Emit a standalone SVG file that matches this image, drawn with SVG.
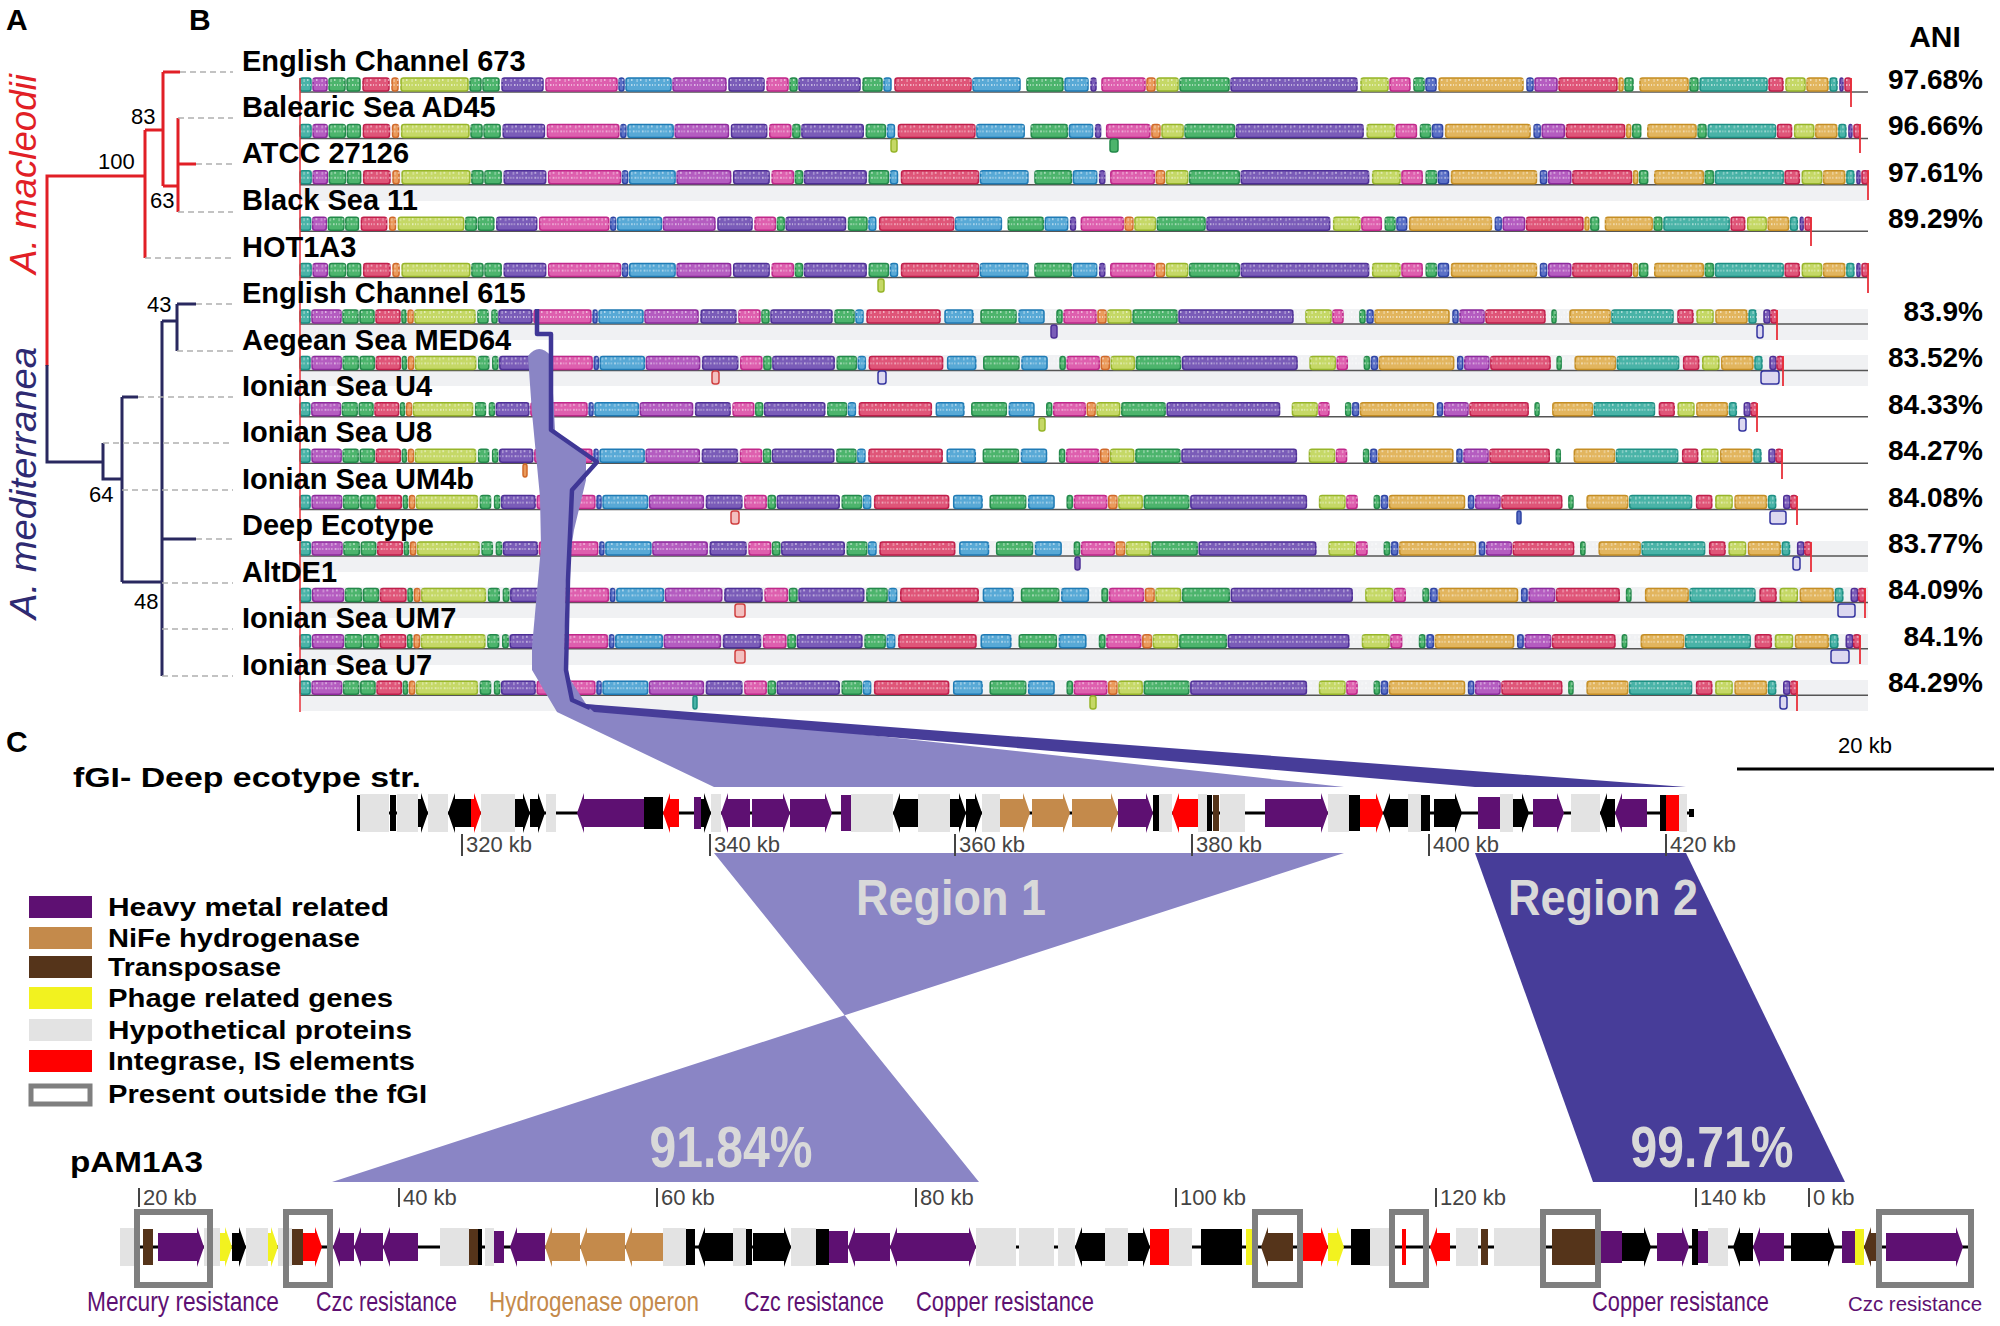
<svg xmlns="http://www.w3.org/2000/svg" width="2000" height="1326" viewBox="0 0 2000 1326">
<style>
text{font-family:"Liberation Sans",Arial,sans-serif}
.pl{font-size:30px;font-weight:bold}
.lab{font-size:29px;font-weight:bold}
.ani{font-size:28px;font-weight:bold;text-anchor:end}
.bs{font-size:22px}
.tk{font-size:22px;fill:#444}
.tkl{stroke:#444;stroke-width:2}
.red{stroke:#e11f26;stroke-width:3;fill:none}
.nav{stroke:#29285f;stroke-width:3;fill:none}
.dash{stroke:#b0b0b0;stroke-width:1.5;stroke-dasharray:6 4}
.base{stroke:#555;stroke-width:1.5}
.band{fill:#f0f1f3}
.end{stroke:#e8303a;stroke-width:1.8}
.blk rect,rect.h{stroke-width:1.5;rx:2.5px}
.c1{fill:#49b3a7;stroke:#1d8f83}
.c2{fill:#b45cc0;stroke:#8d2a9c}
.c3{fill:#4cb46c;stroke:#23894a}
.c4{fill:#df5578;stroke:#c01f4b}
.c5{fill:#ea9a5b;stroke:#d0692a}
.c6{fill:#c5d866;stroke:#97b52a}
.c7{fill:#7a5cb8;stroke:#4e2f96}
.c8{fill:#de5fae;stroke:#c0288a}
.c9{fill:#58a9d6;stroke:#1f7bb5}
.c10{fill:#e2b55e;stroke:#c58e24}
.c11{fill:#5b70c6;stroke:#2f44a4}
.ho{fill:#dcd8f0;stroke:#3535a0}
.blk rect.sp{fill:url(#sp);stroke:none;rx:0}
.hm{fill:#5e1072}.ni{fill:#c48a4b}.tr{fill:#55341a}.ph{fill:#f2f21f}.hy{fill:#e3e3e3}.ig{fill:#ff0000}.bk{fill:#000}
.box{fill:none;stroke:#7f7f7f;stroke-width:6}
.leg{font-size:25px;font-weight:bold}
.bl{font-size:28px;fill:#5e1072}
.big{font-weight:bold;fill:#d9d9d9}
</style>
<defs>
<pattern id="sp" width="9" height="8" patternUnits="userSpaceOnUse">
<rect x="1" y="0" width="1.5" height="5" fill="#fff" opacity="0.55"/>
<rect x="4" y="0" width="1" height="3" fill="#fff" opacity="0.5"/>
<rect x="6.5" y="0" width="1.2" height="6" fill="#fff" opacity="0.45"/>
</pattern>
<g id="mA" class="blk">
<rect class="c1" x="300" y="-14" width="11" height="13"/>
<rect class="c2" x="313" y="-14" width="14" height="13"/>
<rect class="c3" x="329" y="-14" width="16" height="13"/>
<rect class="c3" x="347" y="-14" width="13" height="13"/>
<rect class="c4" x="363" y="-14" width="26" height="13"/>
<rect class="c5" x="392" y="-14" width="6" height="13"/>
<rect class="c6" x="401" y="-14" width="67" height="13"/>
<rect class="c3" x="470" y="-14" width="11" height="13"/>
<rect class="c3" x="483" y="-14" width="16" height="13"/>
<rect class="c7" x="502" y="-14" width="41" height="13"/>
<rect class="c8" x="546" y="-14" width="71" height="13"/>
<rect class="c11" x="619" y="-14" width="5" height="13"/>
<rect class="c9" x="626" y="-14" width="45" height="13"/>
<rect class="c2" x="673" y="-14" width="53" height="13"/>
<rect class="c7" x="729" y="-14" width="35" height="13"/>
<rect class="c8" x="767" y="-14" width="21" height="13"/>
<rect class="c3" x="790" y="-14" width="7" height="13"/>
<rect class="c7" x="799" y="-14" width="61" height="13"/>
<rect class="c3" x="863" y="-14" width="19" height="13"/>
<rect class="c9" x="884" y="-14" width="7" height="13"/>
<rect class="c4" x="895" y="-14" width="76" height="13"/>
<rect class="c9" x="973" y="-14" width="47" height="13"/>
<rect class="c3" x="1027" y="-14" width="36" height="13"/>
<rect class="c9" x="1065" y="-14" width="23" height="13"/>
<rect class="c7" x="1091" y="-14" width="5" height="13"/>
<rect class="c8" x="1102" y="-14" width="43" height="13"/>
<rect class="c5" x="1147" y="-14" width="8" height="13"/>
<rect class="c6" x="1157" y="-14" width="21" height="13"/>
<rect class="c3" x="1180" y="-14" width="49" height="13"/>
<rect class="c7" x="1231" y="-14" width="126" height="13"/>
<rect class="c6" x="1361" y="-14" width="27" height="13"/>
<rect class="c8" x="1390" y="-14" width="20" height="13"/>
<rect class="c3" x="1414" y="-14" width="10" height="13"/>
<rect class="c11" x="1426" y="-14" width="10" height="13"/>
<rect class="c10" x="1439" y="-14" width="84" height="13"/>
<rect class="c11" x="1527" y="-14" width="6" height="13"/>
<rect class="c2" x="1535" y="-14" width="22" height="13"/>
<rect class="c4" x="1559" y="-14" width="58" height="13"/>
<rect class="c10" x="1619" y="-14" width="4" height="13"/>
<rect class="c3" x="1625" y="-14" width="8" height="13"/>
<rect class="c10" x="1640" y="-14" width="48" height="13"/>
<rect class="c3" x="1690" y="-14" width="8" height="13"/>
<rect class="c1" x="1700" y="-14" width="67" height="13"/>
<rect class="c4" x="1769" y="-14" width="14" height="13"/>
<rect class="c6" x="1786" y="-14" width="19" height="13"/>
<rect class="c10" x="1807" y="-14" width="21" height="13"/>
<rect class="c1" x="1830" y="-14" width="7" height="13"/>
<rect class="c7" x="1840" y="-14" width="3" height="13"/>
<rect class="c4" x="1845" y="-14" width="6" height="13"/>
<rect class="sp" x="300" y="-13" width="1551" height="7"/>
</g>
<g id="mM" class="blk">
<rect class="c1" x="300" y="-14" width="10" height="13"/>
<rect class="c2" x="312" y="-14" width="29" height="13"/>
<rect class="c3" x="343" y="-14" width="15" height="13"/>
<rect class="c3" x="360" y="-14" width="14" height="13"/>
<rect class="c4" x="376" y="-14" width="24" height="13"/>
<rect class="c3" x="402" y="-14" width="4" height="13"/>
<rect class="c5" x="408" y="-14" width="5" height="13"/>
<rect class="c6" x="415" y="-14" width="60" height="13"/>
<rect class="c3" x="478" y="-14" width="10" height="13"/>
<rect class="c3" x="492" y="-14" width="5" height="13"/>
<rect class="c7" x="499" y="-14" width="33" height="13"/>
<rect class="c8" x="534" y="-14" width="57" height="13"/>
<rect class="c11" x="593" y="-14" width="4" height="13"/>
<rect class="c9" x="599" y="-14" width="44" height="13"/>
<rect class="c2" x="645" y="-14" width="53" height="13"/>
<rect class="c7" x="701" y="-14" width="35" height="13"/>
<rect class="c8" x="739" y="-14" width="21" height="13"/>
<rect class="c3" x="762" y="-14" width="7" height="13"/>
<rect class="c7" x="771" y="-14" width="61" height="13"/>
<rect class="c3" x="835" y="-14" width="19" height="13"/>
<rect class="c9" x="856" y="-14" width="7" height="13"/>
<rect class="c4" x="867" y="-14" width="73" height="13"/>
<rect class="c9" x="945" y="-14" width="28" height="13"/>
<rect class="c3" x="981" y="-14" width="35" height="13"/>
<rect class="c9" x="1019" y="-14" width="25" height="13"/>
<rect class="c3" x="1057" y="-14" width="5" height="13"/>
<rect class="c8" x="1064" y="-14" width="32" height="13"/>
<rect class="c5" x="1098" y="-14" width="8" height="13"/>
<rect class="c6" x="1108" y="-14" width="23" height="13"/>
<rect class="c3" x="1133" y="-14" width="44" height="13"/>
<rect class="c7" x="1179" y="-14" width="114" height="13"/>
<rect class="c6" x="1306" y="-14" width="25" height="13"/>
<rect class="c8" x="1333" y="-14" width="10" height="13"/>
<rect class="c3" x="1360" y="-14" width="5" height="13"/>
<rect class="c11" x="1367" y="-14" width="6" height="13"/>
<rect class="c10" x="1375" y="-14" width="74" height="13"/>
<rect class="c11" x="1453" y="-14" width="5" height="13"/>
<rect class="c2" x="1460" y="-14" width="24" height="13"/>
<rect class="c4" x="1486" y="-14" width="59" height="13"/>
<rect class="c3" x="1552" y="-14" width="4" height="13"/>
<rect class="c10" x="1570" y="-14" width="40" height="13"/>
<rect class="c1" x="1612" y="-14" width="61" height="13"/>
<rect class="c4" x="1678" y="-14" width="15" height="13"/>
<rect class="c6" x="1697" y="-14" width="16" height="13"/>
<rect class="c10" x="1716" y="-14" width="31" height="13"/>
<rect class="c1" x="1749" y="-14" width="7" height="13"/>
<rect class="c7" x="1764" y="-14" width="6" height="13"/>
<rect class="c4" x="1771" y="-14" width="6" height="13"/>
<rect class="sp" x="300" y="-13" width="1477" height="7"/>
</g>
</defs>
<rect width="2000" height="1326" fill="#fff"/>

<g id="panel-labels">
<text class="pl" x="6" y="30">A</text>
<text class="pl" x="189" y="30">B</text>
<text class="pl" x="6" y="752">C</text>
</g>

<g id="tree">
<path class="red" d="M47,366V176H145M145,130V258M145,130H163M163,72V186M163,72H180M163,186H178M178,118V212M178,164H196"/>
<path class="nav" d="M47,365V462H103M103,443V479H122M122,397V582M122,397H138M122,582H162M162,321V676M162,321H177M177,304V351M177,304H196M162,539H196"/>
<path class="dash" d="M180,72H233M178,118H233M196,164H233M178,212H233M145,258H233M196,304H233M177,351H233M138,397H233M103,443H233M122,490H233M196,539H233M162,583H233M162,629H233M162,676H233"/>
<g class="bs">
<text x="98" y="169">100</text>
<text x="131" y="124">83</text>
<text x="150" y="208">63</text>
<text x="147" y="312">43</text>
<text x="89" y="502">64</text>
<text x="134" y="609">48</text>
</g>
<text transform="translate(36,274) rotate(-90)" font-size="36" font-style="italic" fill="#e11f26" textLength="200" lengthAdjust="spacingAndGlyphs">A. macleodii</text>
<text transform="translate(36,619) rotate(-90)" font-size="36" font-style="italic" fill="#2e2a72" textLength="272" lengthAdjust="spacingAndGlyphs">A. mediterranea</text>
</g>

<g id="alignment">
<g id="bands">
<rect class="band" x="300" y="170" width="1568" height="31"/>
<rect class="band" x="300" y="309" width="1568" height="31"/>
<rect class="band" x="300" y="355" width="1568" height="31"/>
<rect class="band" x="300" y="541" width="1568" height="31"/>
<rect class="band" x="300" y="587" width="1568" height="31"/>
<rect class="band" x="300" y="634" width="1568" height="31"/>
<rect class="band" x="300" y="680" width="1568" height="31"/>
</g>
<path class="base" d="M300,92H1868M300,138.4H1868M300,184.8H1868M300,231.2H1868M300,277.6H1868M300,324H1868M300,370.4H1868M300,416.8H1868M300,463.2H1868M300,509.6H1868M300,556H1868M300,602.4H1868M300,648.8H1868M300,695.2H1868"/>
<use id="track0" href="#mA" transform="translate(0,92)"/>
<use id="track1" href="#mA" transform="matrix(1.0058 0 0 1 -1.74 138.4)"/>
<use id="track2" href="#mA" transform="matrix(1.011 0 0 1 -3.3 184.8)"/>
<use id="track3" href="#mA" transform="matrix(0.9742 0 0 1 7.74 231.2)"/>
<use id="track4" href="#mA" transform="matrix(1.011 0 0 1 -3.3 277.6)"/>
<use id="track5" href="#mM" transform="translate(0,324)"/>
<use id="track6" href="#mM" transform="matrix(1.0041 0 0 1 -1.23 370.4)"/>
<use id="track7" href="#mM" transform="matrix(0.9865 0 0 1 4.05 416.8)"/>
<use id="track8" href="#mM" transform="matrix(1.0034 0 0 1 -1.02 463.2)"/>
<use id="track9" href="#mM" transform="matrix(1.0135 0 0 1 -4.05 509.6)"/>
<use id="track10" href="#mM" transform="matrix(1.023 0 0 1 -6.9 556)"/>
<use id="track11" href="#mM" transform="matrix(1.0596 0 0 1 -17.88 602.4)"/>
<use id="track12" href="#mM" transform="matrix(1.0562 0 0 1 -16.86 648.8)"/>
<use id="track13" href="#mM" transform="matrix(1.0135 0 0 1 -4.05 695.2)"/>
<g id="hanging" class="blk">
<rect class="c6" x="891" y="139" width="6" height="13"/>
<rect class="c3" x="1110" y="139" width="8" height="13"/>
<rect class="c6" x="878" y="279" width="6" height="13"/>
<rect class="c7" x="1051" y="325" width="6" height="13"/>
<rect class="ho" x="1757" y="325" width="6" height="13"/>
<rect class="ho" x="712" y="371" width="7" height="13" style="stroke:#d04040;fill:#f3c0c0"/>
<rect class="ho" x="878" y="371" width="8" height="13"/>
<rect class="ho" x="1761" y="371" width="18" height="13"/>
<rect class="c6" x="1039" y="418" width="6" height="13"/>
<rect class="ho" x="1739" y="418" width="7" height="13"/>
<rect class="c5" x="523" y="464" width="4" height="13"/>
<rect class="ho" x="731" y="511" width="8" height="13" style="stroke:#d04040;fill:#f3c0c0"/>
<rect class="c11" x="1517" y="511" width="4" height="13"/>
<rect class="ho" x="1770" y="511" width="16" height="13"/>
<rect class="c7" x="1075" y="557" width="5" height="13"/>
<rect class="ho" x="1793" y="557" width="7" height="13"/>
<rect class="ho" x="735" y="604" width="10" height="13" style="stroke:#d04040;fill:#f3c0c0"/>
<rect class="ho" x="1838" y="604" width="17" height="13"/>
<rect class="ho" x="735" y="650" width="10" height="13" style="stroke:#d04040;fill:#f3c0c0"/>
<rect class="ho" x="1831" y="650" width="18" height="13"/>
<rect class="c1" x="693" y="696" width="4" height="13"/>
<rect class="c6" x="1090" y="696" width="6" height="13"/>
<rect class="ho" x="1780" y="696" width="7" height="13"/>
</g>
<path class="end" d="M1851,78V107M1860,124V153M1868,170V200M1811,217V246M1868,263V293M1777,310V340M1783,356V386M1757,403V432M1782,449V479M1797,496V525M1811,542V572M1865,588V618M1860,635V664M1797,681V711"/>
<path d="M300,78V712" stroke="#e8303a" stroke-width="1.5"/>
</g>

<g id="strain-labels">
<text class="lab" x="242" y="71">English Channel 673</text>
<text class="lab" x="242" y="117">Balearic Sea AD45</text>
<text class="lab" x="242" y="163">ATCC 27126</text>
<text class="lab" x="242" y="210">Black Sea 11</text>
<text class="lab" x="242" y="257" font-size="32">HOT1A3</text>
<text class="lab" x="242" y="303">English Channel 615</text>
<text class="lab" x="242" y="350">Aegean Sea MED64</text>
<text class="lab" x="242" y="396">Ionian Sea U4</text>
<text class="lab" x="242" y="442">Ionian Sea U8</text>
<text class="lab" x="242" y="489">Ionian Sea UM4b</text>
<text class="lab" x="242" y="535">Deep Ecotype</text>
<text class="lab" x="242" y="582">AltDE1</text>
<text class="lab" x="242" y="628">Ionian Sea UM7</text>
<text class="lab" x="242" y="675">Ionian Sea U7</text>
</g>

<g id="ani">
<text x="1935" y="47" font-size="30" font-weight="bold" text-anchor="middle">ANI</text>
<text class="ani" x="1983" y="89">97.68%</text>
<text class="ani" x="1983" y="135">96.66%</text>
<text class="ani" x="1983" y="182">97.61%</text>
<text class="ani" x="1983" y="228">89.29%</text>
<text class="ani" x="1983" y="321">83.9%</text>
<text class="ani" x="1983" y="367">83.52%</text>
<text class="ani" x="1983" y="414">84.33%</text>
<text class="ani" x="1983" y="460">84.27%</text>
<text class="ani" x="1983" y="507">84.08%</text>
<text class="ani" x="1983" y="553">83.77%</text>
<text class="ani" x="1983" y="599">84.09%</text>
<text class="ani" x="1983" y="646">84.1%</text>
<text class="ani" x="1983" y="692">84.29%</text>
</g>

<g id="connectors">
<path id="ribbon-region1" fill="#8a85c5" d="M528,356Q539,342 551,356L555,430L586,457L586,480L574,530L566,580L564,670L586,704L1344,787L714,787L557,712L532,670L532,647L541,547L540,497L532,413Z"/>
<path id="ribbon-region2" fill="#473d99" d="M585,704L1686,787L1475,787L594,712Z"/>
<path d="M537,309V334H551V430L597,462L572,490L568,580L566,670L572,700L590,708" fill="none" stroke="#3f3796" stroke-width="4.5" stroke-linejoin="round"/>
<path id="region1" fill="#8a85c5" d="M714,853L1344,853L844.7,1015.3L979,1182L332,1182L844.7,1015.3Z"/>
<path id="region2" fill="#473d99" d="M1475,853L1686,853L1845,1182L1593,1182Z"/>
</g>

<g id="scale-bar">
<path d="M1737,769H1994" stroke="#000" stroke-width="3"/>
<text x="1865" y="753" font-size="22" text-anchor="middle">20 kb</text>
</g>

<g id="region-labels">
<text class="big" x="951" y="915" font-size="50" text-anchor="middle" textLength="190" lengthAdjust="spacingAndGlyphs">Region 1</text>
<text class="big" x="1603" y="915" font-size="50" text-anchor="middle" textLength="190" lengthAdjust="spacingAndGlyphs">Region 2</text>
<text class="big" x="731" y="1167" font-size="58" text-anchor="middle" textLength="163" lengthAdjust="spacingAndGlyphs">91.84%</text>
<text class="big" x="1712" y="1167" font-size="58" text-anchor="middle" textLength="163" lengthAdjust="spacingAndGlyphs">99.71%</text>
</g>

<g id="fgi">
<text x="73" y="787" font-size="28" font-weight="bold" textLength="348" lengthAdjust="spacingAndGlyphs">fGI- Deep ecotype str.</text>
<path d="M357,813H1694" stroke="#000" stroke-width="3"/>
<g class="hy">
<rect x="360" y="794" width="29" height="38"/><rect x="397" y="794" width="21" height="38"/><rect x="428" y="794" width="20" height="38"/><rect x="481" y="794" width="34" height="38"/><rect x="546" y="794" width="10" height="38"/><rect x="711" y="794" width="10" height="38"/><rect x="851" y="794" width="42" height="38"/><rect x="918" y="794" width="32" height="38"/><rect x="982" y="794" width="18" height="38"/><rect x="1159" y="794" width="13" height="38"/><rect x="1198" y="794" width="9" height="38"/><rect x="1220" y="794" width="25" height="38"/><rect x="1328" y="794" width="21" height="38"/><rect x="1408" y="794" width="13" height="38"/><rect x="1500" y="794" width="13" height="38"/><rect x="1571" y="794" width="29" height="38"/><rect x="1679" y="794" width="8" height="38"/>
</g>
<g class="bk">
<rect x="357" y="795" width="3" height="36"/><rect x="390" y="795" width="6" height="36"/>
<path d="M418,799H421V793L428,813L421,833V827H418Z"/>
<path d="M471,799H455V793L448,813L455,833V827H471Z"/>
<path d="M515,799H523V793L530,813L523,833V827H515Z"/>
<path d="M530,799H538V793L545,813L538,833V827H530Z"/>
<rect x="644" y="797" width="19" height="32"/>
<path d="M701,799H704V793L711,813L704,833V827H701Z"/>
<path d="M918,799H900V793L893,813L900,833V827H918Z"/>
<path d="M950,799H959V793L966,813L959,833V827H950Z"/>
<path d="M966,799H975V793L982,813L975,833V827H966Z"/>
<rect x="1153" y="795" width="6" height="36"/>
<rect x="1207" y="795" width="5" height="36"/>
<rect x="1349" y="795" width="11" height="36"/>
<path d="M1408,799H1390V793L1383,813L1390,833V827H1408Z"/>
<rect x="1421" y="795" width="9" height="36"/>
<path d="M1434,799H1455V793L1462,813L1455,833V827H1434Z"/>
<path d="M1513,799H1522V793L1529,813L1522,833V827H1513Z"/>
<path d="M1615,799H1607V793L1600,813L1607,833V827H1615Z"/>
<rect x="1660" y="795" width="6" height="36"/>
<rect x="1689" y="809" width="5" height="8"/>
</g>
<g class="ig">
<path d="M471,799H474V793L481,813L474,833V827H471Z"/>
<path d="M679,799H670V793L663,813L670,833V827H679Z"/>
<path d="M1198,799H1179V793L1172,813L1179,833V827H1198Z"/>
<path d="M1360,799H1376V793L1383,813L1376,833V827H1360Z"/>
<rect x="1666" y="795" width="13" height="36"/>
</g>
<g class="hm">
<path d="M644,799H584V793L577,813L584,833V827H644Z"/>
<rect x="694" y="797" width="7" height="32"/>
<path d="M750,799H728V793L721,813L728,833V827H750Z"/>
<path d="M752,799H783V793L790,813L783,833V827H752Z"/>
<path d="M790,799H825V793L832,813L825,833V827H790Z"/>
<rect x="841" y="795" width="10" height="36"/>
<path d="M1118,799H1146V793L1153,813L1146,833V827H1118Z"/>
<path d="M1265,799H1321V793L1328,813L1321,833V827H1265Z"/>
<rect x="1478" y="797" width="22" height="32"/>
<path d="M1533,799H1557V793L1564,813L1557,833V827H1533Z"/>
<path d="M1647,799H1622V793L1615,813L1622,833V827H1647Z"/>
</g>
<g class="ni">
<path d="M1000,799H1023V793L1030,813L1023,833V827H1000Z"/>
<path d="M1032,799H1063V793L1070,813L1063,833V827H1032Z"/>
<path d="M1072,799H1111V793L1118,813L1111,833V827H1072Z"/>
</g>
<rect class="tr" x="1213" y="795" width="6" height="36"/>
<path class="tkl" d="M462,834V856M710,834V856M955,834V856M1192,834V856M1429,834V856M1666,834V856"/>
<g class="tk">
<text x="466" y="852">320 kb</text><text x="714" y="852">340 kb</text><text x="959" y="852">360 kb</text><text x="1196" y="852">380 kb</text><text x="1433" y="852">400 kb</text><text x="1670" y="852">420 kb</text>
</g>
</g>

<g id="legend">
<rect class="hm" x="29" y="896" width="63" height="22"/>
<rect class="ni" x="29" y="927" width="63" height="22"/>
<rect class="tr" x="29" y="956" width="63" height="22"/>
<rect class="ph" x="29" y="987" width="63" height="22"/>
<rect class="hy" x="29" y="1019" width="63" height="22"/>
<rect class="ig" x="29" y="1050" width="63" height="22"/>
<rect x="31" y="1086" width="59" height="18" fill="none" stroke="#7f7f7f" stroke-width="5"/>
<text class="leg" x="108" y="916" textLength="281" lengthAdjust="spacingAndGlyphs">Heavy metal related</text>
<text class="leg" x="108" y="947" textLength="252" lengthAdjust="spacingAndGlyphs">NiFe hydrogenase</text>
<text class="leg" x="108" y="976" textLength="173" lengthAdjust="spacingAndGlyphs">Transposase</text>
<text class="leg" x="108" y="1007" textLength="285" lengthAdjust="spacingAndGlyphs">Phage related genes</text>
<text class="leg" x="108" y="1039" textLength="304" lengthAdjust="spacingAndGlyphs">Hypothetical proteins</text>
<text class="leg" x="108" y="1070" textLength="307" lengthAdjust="spacingAndGlyphs">Integrase, IS elements</text>
<text class="leg" x="108" y="1103" textLength="319" lengthAdjust="spacingAndGlyphs">Present outside the fGI</text>
</g>

<g id="pam">
<text x="70" y="1172" font-size="29" font-weight="bold" textLength="133" lengthAdjust="spacingAndGlyphs">pAM1A3</text>
<path class="tkl" d="M139,1188V1207M399,1188V1207M657,1188V1207M916,1188V1207M1176,1188V1207M1436,1188V1207M1696,1188V1207M1809,1188V1207"/>
<g class="tk">
<text x="143" y="1205">20 kb</text><text x="403" y="1205">40 kb</text><text x="661" y="1205">60 kb</text><text x="920" y="1205">80 kb</text><text x="1180" y="1205">100 kb</text><text x="1440" y="1205">120 kb</text><text x="1700" y="1205">140 kb</text><text x="1813" y="1205">0 kb</text>
</g>
<path d="M120,1247H1973" stroke="#000" stroke-width="3"/>
<g class="hy">
<rect x="120" y="1228" width="17" height="38"/><rect x="204" y="1228" width="16" height="38"/><rect x="246" y="1228" width="22" height="38"/><rect x="278" y="1228" width="14" height="38"/><rect x="440" y="1228" width="29" height="38"/><rect x="485" y="1228" width="9" height="38"/><rect x="663" y="1228" width="23" height="38"/><rect x="733" y="1228" width="13" height="38"/><rect x="791" y="1228" width="25" height="38"/><rect x="976" y="1228" width="40" height="38"/><rect x="1019" y="1228" width="35" height="38"/><rect x="1058" y="1228" width="17" height="38"/><rect x="1105" y="1228" width="23" height="38"/><rect x="1169" y="1228" width="23" height="38"/><rect x="1370" y="1228" width="25" height="38"/><rect x="1456" y="1228" width="22" height="38"/><rect x="1494" y="1228" width="48" height="38"/><rect x="1708" y="1228" width="20" height="38"/>
</g>
<g class="bk">
<rect x="137" y="1229" width="3" height="36"/>
<path d="M232,1233H239V1227L246,1247L239,1267V1261H232Z"/>
<rect x="478" y="1229" width="4" height="36"/>
<rect x="686" y="1229" width="9" height="36"/>
<path d="M733,1233H705V1227L698,1247L705,1267V1261H733Z"/>
<rect x="746" y="1229" width="6" height="36"/>
<path d="M753,1233H784V1227L791,1247L784,1267V1261H753Z"/>
<rect x="816" y="1229" width="13" height="36"/>
<path d="M1105,1233H1082V1227L1075,1247L1082,1267V1261H1105Z"/>
<path d="M1128,1233H1143V1227L1150,1247L1143,1267V1261H1128Z"/>
<rect x="1201" y="1229" width="41" height="36"/>
<rect x="1351" y="1229" width="19" height="36"/>
<path d="M1622,1233H1644V1227L1651,1247L1644,1267V1261H1622Z"/>
<rect x="1692" y="1229" width="6" height="36"/>
<path d="M1753,1233H1740V1227L1733,1247L1740,1267V1261H1753Z"/>
<path d="M1791,1233H1828V1227L1835,1247L1828,1267V1261H1791Z"/>
</g>
<g class="tr">
<rect x="143" y="1229" width="10" height="36"/>
<rect x="292" y="1229" width="11" height="36"/>
<rect x="469" y="1229" width="9" height="36"/>
<path d="M1293,1233H1268V1227L1261,1247L1268,1267V1261H1293Z"/>
<rect x="1481" y="1229" width="7" height="36"/>
<rect x="1552" y="1229" width="44" height="36"/>
<path d="M1880,1233H1871V1227L1864,1247L1871,1267V1261H1880Z"/>
</g>
<g class="ph">
<path d="M220,1233H225V1227L232,1247L225,1267V1261H220Z"/>
<path d="M268,1233H271V1227L278,1247L271,1267V1261H268Z"/>
<rect x="1246" y="1229" width="6" height="36"/>
<path d="M1328,1233H1337V1227L1344,1247L1337,1267V1261H1328Z"/>
<rect x="1855" y="1229" width="9" height="36"/>
</g>
<g class="ig">
<path d="M303,1233H315V1227L322,1247L315,1267V1261H303Z"/>
<rect x="1150" y="1229" width="19" height="36"/>
<path d="M1303,1233H1321V1227L1328,1247L1321,1267V1261H1303Z"/>
<rect x="1402" y="1229" width="4" height="36"/>
<path d="M1450,1233H1437V1227L1430,1247L1437,1267V1261H1450Z"/>
</g>
<g class="hm">
<path d="M158,1233H197V1227L204,1247L197,1267V1261H158Z"/>
<path d="M354,1233H340V1227L333,1247L340,1267V1261H354Z"/>
<path d="M383,1233H361V1227L354,1247L361,1267V1261H383Z"/>
<path d="M418,1233H390V1227L383,1247L390,1267V1261H418Z"/>
<rect x="494" y="1231" width="10" height="32"/>
<path d="M545,1233H517V1227L510,1247L517,1267V1261H545Z"/>
<rect x="829" y="1231" width="19" height="32"/>
<path d="M890,1233H855V1227L848,1247L855,1267V1261H890Z"/>
<path d="M931,1233H897V1227L890,1247L897,1267V1261H931Z"/>
<path d="M931,1233H969V1227L976,1247L969,1267V1261H931Z"/>
<rect x="1600" y="1231" width="22" height="32"/>
<path d="M1657,1233H1682V1227L1689,1247L1682,1267V1261H1657Z"/>
<rect x="1698" y="1231" width="10" height="32"/>
<path d="M1784,1233H1760V1227L1753,1247L1760,1267V1261H1784Z"/>
<rect x="1842" y="1231" width="13" height="32"/>
<path d="M1886,1233H1956V1227L1963,1247L1956,1267V1261H1886Z"/>
</g>
<g class="ni">
<path d="M580,1233H552V1227L545,1247L552,1267V1261H580Z"/>
<path d="M625,1233H587V1227L580,1247L587,1267V1261H625Z"/>
<path d="M663,1233H632V1227L625,1247L632,1267V1261H663Z"/>
</g>
<g id="outside-boxes">
<rect class="box" x="137" y="1212" width="73" height="73"/>
<rect class="box" x="286" y="1212" width="44" height="73"/>
<rect class="box" x="1255" y="1212" width="45" height="73"/>
<rect class="box" x="1392" y="1212" width="34" height="73"/>
<rect class="box" x="1543" y="1212" width="55" height="73"/>
<rect class="box" x="1879" y="1212" width="92" height="73"/>
</g>
<g id="function-labels">
<text class="bl" x="87" y="1311" textLength="192" lengthAdjust="spacingAndGlyphs">Mercury resistance</text>
<text class="bl" x="316" y="1311" textLength="141" lengthAdjust="spacingAndGlyphs">Czc resistance</text>
<text class="bl" x="489" y="1311" textLength="210" lengthAdjust="spacingAndGlyphs" style="fill:#c48a4b">Hydrogenase operon</text>
<text class="bl" x="744" y="1311" textLength="140" lengthAdjust="spacingAndGlyphs">Czc resistance</text>
<text class="bl" x="916" y="1311" textLength="178" lengthAdjust="spacingAndGlyphs">Copper resistance</text>
<text class="bl" x="1592" y="1311" textLength="177" lengthAdjust="spacingAndGlyphs">Copper resistance</text>
<text class="bl" x="1848" y="1311" font-size="21" textLength="134" lengthAdjust="spacingAndGlyphs" style="font-size:21px">Czc resistance</text>
</g>
</g>
</svg>
